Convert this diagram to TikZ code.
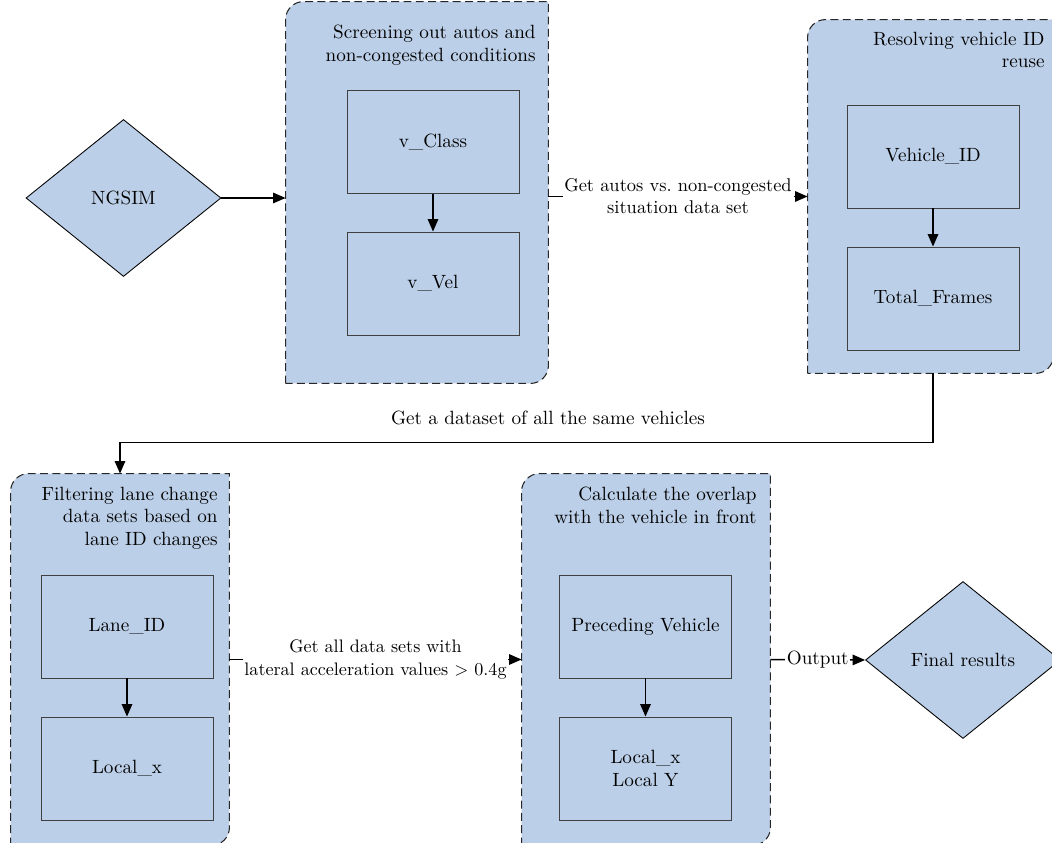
\documentclass[tikz,border=0pt]{standalone}
\usetikzlibrary{arrows.meta,shapes.geometric,fit}
\definecolor{boxblue}{RGB}{188,207,232}

\begin{document}
\begin{tikzpicture}[x=0.2mm, y=-0.2mm, line width=0.5pt,
  font=\fontsize{10.9}{12.6}\selectfont,
  grp/.style={fill=boxblue, draw=black!85, line width=0.6pt, dash pattern=on 4.5pt off 2.5pt},
  fieldbox/.style={draw=black!75, fill=boxblue, minimum width=34.4mm, minimum height=20.6mm, inner sep=0pt, align=center},
  terminal/.style={diamond, draw, fill=boxblue, minimum width=39mm, minimum height=31.4mm, inner sep=0pt},
  arr/.style={line width=0.85pt, -{Triangle[length=2.5mm, width=2.1mm]}},
  lbl/.style={fill=white, inner sep=1pt, align=center},
  grptitle/.style={anchor=north east, inner sep=0pt, align=right}]

  \useasboundingbox (0,0) rectangle (1052,843);
  \clip (0,0) rectangle (1052,843);

  % group frames
  \node[fit={(286,2) (548,383)}, inner sep=0pt] (screen) {};
  \node[fit={(808,20) (1053,373)}, inner sep=0pt] (reuse) {};
  \node[fit={(11,474) (229,845)}, inner sep=0pt] (lane) {};
  \node[fit={(522,474) (770,845)}, inner sep=0pt] (overlap) {};
  \foreach \g in {screen,reuse,lane,overlap}
    \draw[grp] (\g.south west) -- ([yshift=-3.6mm]\g.north west)
      arc[start angle=180, end angle=90, radius=3.6mm] -- (\g.north east)
      -- ([yshift=3.6mm]\g.south east) arc[start angle=0, end angle=-90, radius=3.6mm] -- cycle;

  \node[grptitle] (screentitle) at (536,25) {Screening out autos and\\non-congested conditions};
  \node[grptitle] (reusetitle) at (1045,32) {Resolving vehicle ID\\reuse};
  \node[grptitle] (lanetitle) at (218,487) {Filtering lane change\\data sets based on\\lane ID changes};
  \node[grptitle] (overlaptitle) at (757,487) {Calculate the overlap\\with the vehicle in front};

  % fields
  \node[fieldbox] (vclass) at (433,142) {v\_Class};
  \node[fieldbox] (vvel) at (433,283.5) {v\_Vel};
  \node[fieldbox] (vehid) at (933,156.5) {Vehicle\_ID};
  \node[fieldbox] (total) at (933,298.5) {Total\_Frames};
  \node[fieldbox] (laneid) at (127,626.5) {Lane\_ID};
  \node[fieldbox] (localx) at (127,768.5) {Local\_x};
  \node[fieldbox] (preced) at (645.5,626.5) {Preceding Vehicle};
  \node[fieldbox] (localxy) at (645.5,768.5) {Local\_x\\Local Y};

  \draw[arr] (vclass.south) -- (vvel.north);
  \draw[arr] (vehid.south) -- (total.north);
  \draw[arr] (laneid.south) -- (localx.north);
  \draw[arr] (preced.south) -- (localxy.north);

  % start and end
  \node[terminal] (ngsim) at (123.5,198) {NGSIM};
  \node[terminal] (final) at (963,660) {Final results};

  % connectors
  \draw[arr] (ngsim.east) -- (ngsim.east -| screen.west);
  \draw[arr] (screen.east |- reuse.west) -- node[lbl, font=\fontsize{10.5}{12.6}\selectfont] {Get autos vs.\ non-congested\\situation data set} (reuse.west);
  \draw[arr] (total.south |- reuse.south) -- ++(0,69) -| (lane.north);
  \node (samelbl) at (548,418) {Get a dataset of all the same vehicles};
  \draw[arr] (lane.east) -- node[lbl, font=\fontsize{10.3}{12.6}\selectfont] {Get all data sets with\\lateral acceleration values > 0.4g} (overlap.west);
  \draw[arr] (overlap.east) -- node[lbl] {Output} (final.west);
\end{tikzpicture}
\end{document}
